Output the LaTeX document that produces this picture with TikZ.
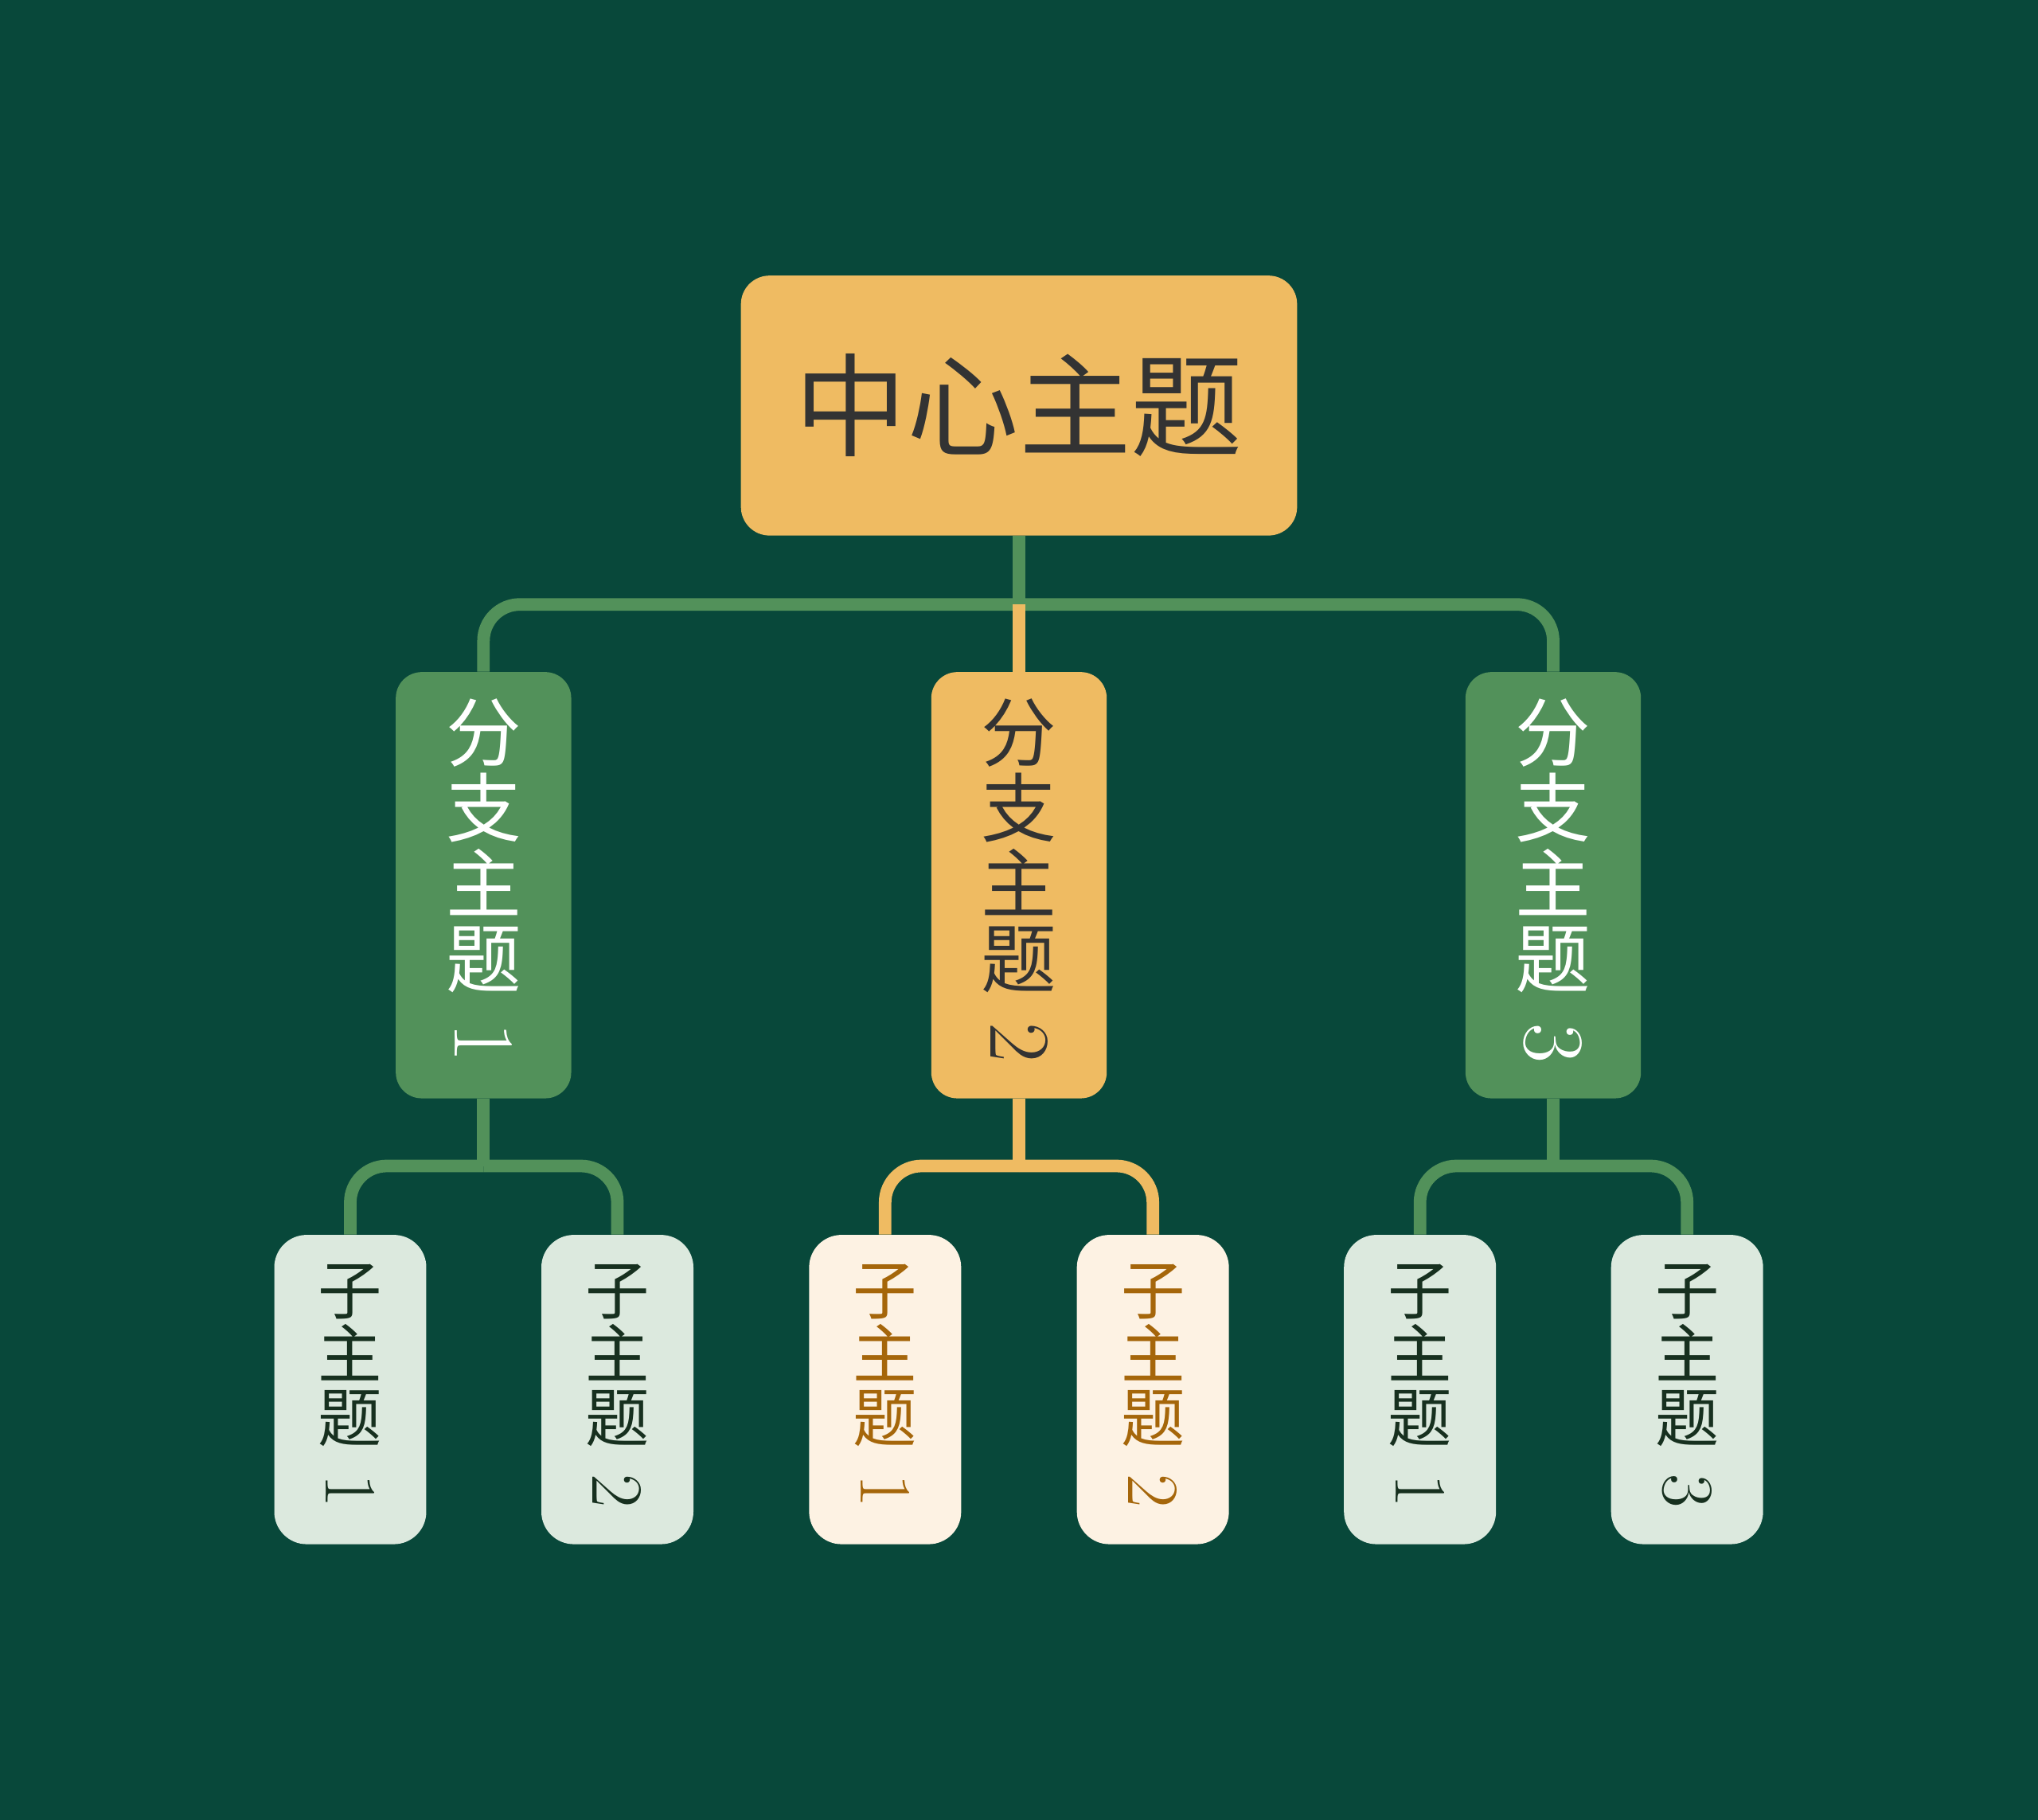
\documentclass[tikz,border=0pt]{standalone}
\usepackage{fontspec}
\usepackage{graphicx}
\newfontfamily\cjk{Noto Sans CJK SC}
\usetikzlibrary{positioning}

% number turned as in vertical writing
\newcommand{\tnum}[1]{\rotatebox[origin=c]{-90}{\scalebox{1.15}{\rmfamily #1}}}

\begin{document}
\begin{tikzpicture}[x=0.02cm, y=-0.02cm,
    link/.style={line width=5.5pt},
    rootTopic/.style={rectangle, rounded corners=0.44cm, fill=orangeTopic, text=darkText,
      minimum width=8.56cm, minimum height=4cm, inner sep=0pt, font=\cjk\fontsize{49}{49}\selectfont},
    branchTopic/.style={rectangle, rounded corners=0.4cm, minimum width=2.7cm, minimum height=6.56cm,
      inner sep=0pt, align=center, font=\cjk\fontsize{33}{33}\selectfont},
    subTopic/.style={rectangle, rounded corners=0.5cm, minimum width=2.34cm, minimum height=4.76cm,
      inner sep=0pt, align=center, font=\cjk\fontsize{28}{28}\selectfont},
  ]

    % Colors
    \definecolor{bgGreen}{HTML}{08483A}
    \definecolor{greenTopic}{HTML}{52915A}
    \definecolor{orangeTopic}{HTML}{EFBB62}
    \definecolor{darkText}{HTML}{333333}
    \definecolor{greenSub}{HTML}{DCE9DE}
    \definecolor{greenSubText}{HTML}{17301F}
    \definecolor{orangeSub}{HTML}{FDF2E3}
    \definecolor{orangeSubText}{HTML}{A5660A}

    %draw the background
    \fill[bgGreen] (0,0) rectangle (1568,1400);
    \useasboundingbox (0,0) rectangle (1568,1400);

    %draw the topics
    \node[rootTopic] (root) at (784,312) {中心主题};

    \node[branchTopic, fill=greenTopic, text=white] (b1) at (372,681) {分\\支\\主\\题\\[4pt]\tnum{1}};
    \node[branchTopic, fill=orangeTopic, text=darkText] (b2) at (784,681) {分\\支\\主\\题\\[4pt]\tnum{2}};
    \node[branchTopic, fill=greenTopic, text=white] (b3) at (1195,681) {分\\支\\主\\题\\[4pt]\tnum{3}};

    \node[subTopic, fill=greenSub, text=greenSubText] (s11) at (269.5,1069) {子\\主\\题\\[4pt]\tnum{1}};
    \node[subTopic, fill=greenSub, text=greenSubText] (s12) at (475,1069) {子\\主\\题\\[4pt]\tnum{2}};
    \node[subTopic, fill=orangeSub, text=orangeSubText] (s21) at (681,1069) {子\\主\\题\\[4pt]\tnum{1}};
    \node[subTopic, fill=orangeSub, text=orangeSubText] (s22) at (887,1069) {子\\主\\题\\[4pt]\tnum{2}};
    \node[subTopic, fill=greenSub, text=greenSubText] (s31) at (1092.5,1069) {子\\主\\题\\[4pt]\tnum{1}};
    \node[subTopic, fill=greenSub, text=greenSubText] (s32) at (1298,1069) {子\\主\\题\\[4pt]\tnum{3}};

    \coordinate (J0) at (784,465);
    \coordinate (J1) at (372,897);
    \coordinate (J2) at (784,897);
    \coordinate (J3) at (1195,897);

    %draw the links from the root
    \draw[link, greenTopic] (root.south) -- (J0);
    \draw[link, greenTopic, rounded corners=0.56cm] (J0) -| (b1.north);
    \draw[link, greenTopic, rounded corners=0.56cm] (J0) -| (b3.north);
    \draw[link, orangeTopic] (J0) -- (b2.north);

    %draw the links to the subtopics
    \draw[link, greenTopic] (b1.south) -- (J1);
    \draw[link, greenTopic, rounded corners=0.56cm] (J1) -| (s11.north);
    \draw[link, greenTopic, rounded corners=0.56cm] (J1) -| (s12.north);

    \draw[link, orangeTopic] (b2.south) -- (J2);
    \draw[link, orangeTopic, rounded corners=0.56cm] (J2) -| (s21.north);
    \draw[link, orangeTopic, rounded corners=0.56cm] (J2) -| (s22.north);

    \draw[link, greenTopic] (b3.south) -- (J3);
    \draw[link, greenTopic, rounded corners=0.56cm] (J3) -| (s31.north);
    \draw[link, greenTopic, rounded corners=0.56cm] (J3) -| (s32.north);

\end{tikzpicture}
\end{document}
